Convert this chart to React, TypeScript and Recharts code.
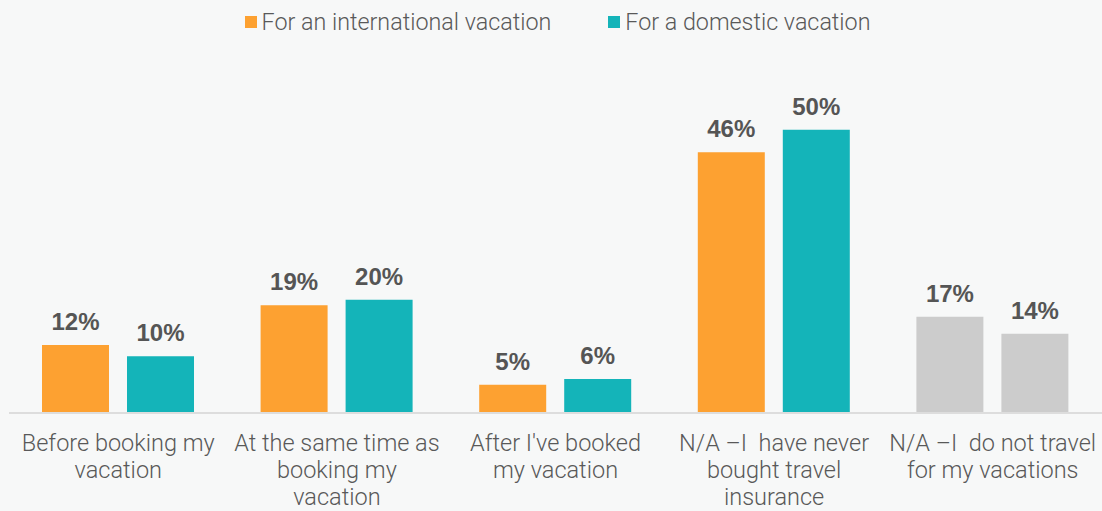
import React from 'react';
import { BarChart, Bar, XAxis, YAxis, Legend, LabelList, Cell } from 'recharts';

const categories = [
  'Before booking my\nvacation',
  'At the same time as\nbooking my\nvacation',
  "After I've booked\nmy vacation",
  'N/A –I  have never\nbought travel\ninsurance',
  'N/A –I  do not travel\nfor my vacations',
];
const international = [12, 19, 5, 46, 17];
const domestic = [10, 20, 6, 50, 14];
const seriesNames = ['For an international vacation', 'For a domestic vacation'];
const ORANGE = '#FDA131';
const TEAL = '#14B4B9';
const GRAY = '#CCCCCC';
const grayIndex = [4];

const data = categories.map((c, i) => ({ name: c, intl: international[i], dom: domestic[i] }));

const TEXT = '#595959';

const Tick = (props: any) => {
  const { x, y, payload } = props;
  const lines = String(payload.value).split('\n');
  return (
    <text x={x} y={y} textAnchor="middle" fill={TEXT} fontSize={23.5} fontFamily="Roboto" fontWeight={300} style={{ whiteSpace: 'pre' }}>
      {lines.map((l, i) => (
        <tspan key={i} x={x} y={y + 30 + i * 27} style={{ whiteSpace: 'pre' }}>{l}</tspan>
      ))}
    </text>
  );
};

const LegendContent = () => (
  <div style={{ display: 'flex', justifyContent: 'center', fontFamily: 'Roboto', fontWeight: 300, fontSize: 23.3, color: TEXT, gap: 57, marginLeft: 4 }}>
    {[ORANGE, TEAL].map((c, i) => (
      <div key={i} style={{ display: 'flex', alignItems: 'center' }}>
        <span style={{ display: 'inline-block', width: 12, height: 12, background: c, marginRight: 5 }} />
        <span>{seriesNames[i]}</span>
      </div>
    ))}
  </div>
);

const labelFmt = (v: any) => `${v}%`;

export default function App() {
  return (
    <div style={{ position: 'fixed', left: 0, top: 0, width: 1102, height: 511, background: '#F7F8F8' }}>
      <BarChart width={1102} height={511} data={data} margin={{ top: 33, right: 0, left: 9, bottom: 0 }} barSize={67} barGap={18}>
        <Legend verticalAlign="top" height={40} content={<LegendContent />} wrapperStyle={{ top: 8 }} />
        <XAxis dataKey="name" height={98} tick={<Tick />} tickLine={false} axisLine={{ stroke: '#DDDDDD', strokeWidth: 2 }} interval={0} />
        <YAxis hide domain={[0, 60]} />
        <Bar dataKey="intl" name={seriesNames[0]} fill={ORANGE} isAnimationActive={false}>
          {data.map((_, i) => <Cell key={i} fill={grayIndex.includes(i) ? GRAY : ORANGE} />)}
          <LabelList dataKey="intl" position="top" offset={15} formatter={labelFmt} fill="#555555" fontSize={24} fontWeight={700} fontFamily="Liberation Sans" />
        </Bar>
        <Bar dataKey="dom" name={seriesNames[1]} fill={TEAL} isAnimationActive={false}>
          {data.map((_, i) => <Cell key={i} fill={grayIndex.includes(i) ? GRAY : TEAL} />)}
          <LabelList dataKey="dom" position="top" offset={15} formatter={labelFmt} fill="#555555" fontSize={24} fontWeight={700} fontFamily="Liberation Sans" />
        </Bar>
      </BarChart>
    </div>
  );
}
